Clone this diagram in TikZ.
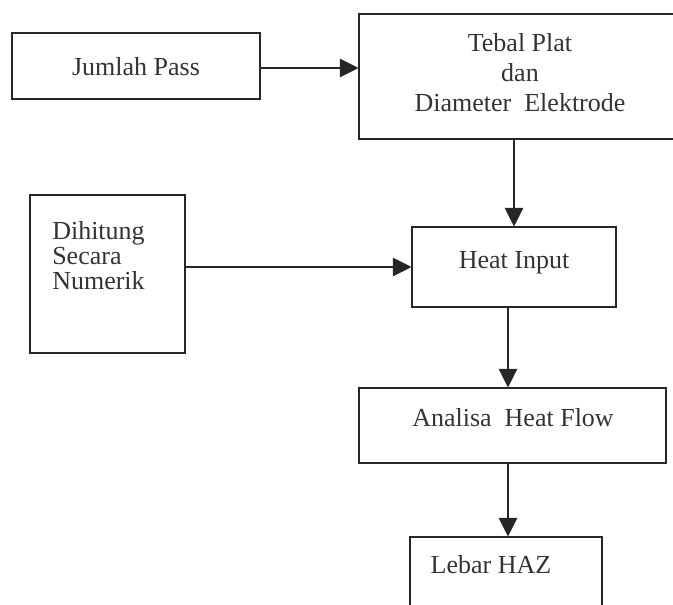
\documentclass[tikz,border=0pt]{standalone}
\usepackage{fontspec}
\setmainfont{Liberation Serif}
\usetikzlibrary{arrows.meta, calc, positioning}

\tikzset{
  kotak/.style={draw=black!85, line width=0.8pt, inner sep=0pt},
  teks/.style={text=black!80, font=\fontsize{19.5}{22.5}\selectfont, inner sep=0pt},
  panah/.style={draw=black!85, line width=0.8pt, -{Triangle[length=14pt, width=14pt]}}
}

\begin{document}
\begin{tikzpicture}[x=0.75pt, y=-0.75pt]
  \useasboundingbox (0,0) rectangle (673,605);

  % Boxes
  \node[kotak, minimum width=248*0.75pt, minimum height=66*0.75pt] (pass) at (136,66) {};
  \node[kotak, minimum width=322*0.75pt, minimum height=125*0.75pt] (tebal) at (520,76.5) {};
  \node[kotak, minimum width=155*0.75pt, minimum height=158*0.75pt] (hitung) at (107.5,274) {};
  \node[kotak, minimum width=204*0.75pt, minimum height=80*0.75pt] (heat) at (514,267) {};
  \node[kotak, minimum width=307*0.75pt, minimum height=75*0.75pt] (flow) at (512.5,425.5) {};
  \node[kotak, minimum width=192*0.75pt, minimum height=100*0.75pt] (haz) at (506,587) {};

  % Texts
  \node[teks] (passT) at (136,67) {Jumlah Pass};
  \node[teks, align=center] (tebalT) at (520,73) {Tebal Plat\\dan\\Diameter\ \ Elektrode};
  \node[teks, align=left, anchor=west, font=\fontsize{19.5}{18.75}\selectfont] (hitungT) at (52,256) {Dihitung\\Secara\\Numerik};
  \node[teks] (heatT) at (514,263) {Heat Input};
  \node[teks] (flowT) at (513,418) {Analisa\ \ Heat Flow};
  \node[teks] (hazT) at (491,565) {Lebar HAZ};

  % Connectors
  \coordinate (poros) at (508,0);
  \draw[panah] ([yshift=-1.5pt]pass.east) -- ([yshift=-1.5pt]pass.east -| tebal.west);
  \draw[panah] (tebal.south -| heat.north) -- (heat.north);
  \draw[panah] (heat.west -| hitung.east) -- (heat.west);
  \draw[panah] (heat.south -| poros) -- (flow.north -| poros);
  \draw[panah] (flow.south -| poros) -- (haz.north -| poros);
\end{tikzpicture}
\end{document}
